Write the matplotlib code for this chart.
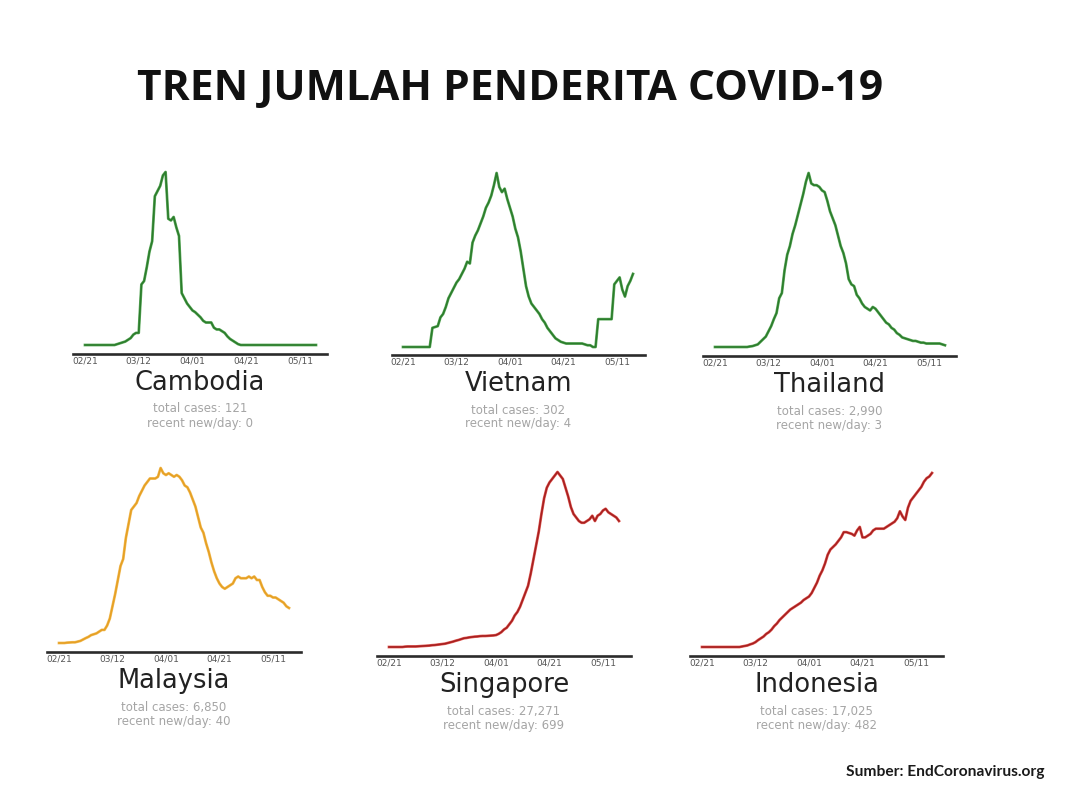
import matplotlib
matplotlib.use("Agg")
import matplotlib.pyplot as plt
import matplotlib.patheffects as pe

W, H = 1069, 795
DPI = 100

# ---------------- data (relative 7-day average of new cases/day, peak = 100) ----------------
tick_days = [0, 20, 40, 60, 80]
tick_labels = ["02/21", "03/12", "04/01", "04/21", "05/11"]

countries = ["Cambodia", "Vietnam", "Thailand", "Malaysia", "Singapore", "Indonesia"]
total_cases = ["121", "302", "2,990", "6,850", "27,271", "17,025"]
recent_new = ["0", "4", "3", "40", "699", "482"]

cambodia = [0, 0, 0, 0, 0, 0, 0, 0, 0, 0, 0, 0, 0.5, 1, 1.5, 2, 3, 4, 6, 7,
            7, 35, 37, 45, 54, 60, 86, 89, 92, 98, 100, 73, 72, 74, 68, 63, 30, 27, 24, 22,
            20, 19, 17.5, 16, 14, 13, 13, 13, 10, 9, 9, 8, 7, 5, 3.5, 2.5, 1.5, 0.5, 0, 0,
            0, 0, 0, 0, 0, 0, 0, 0, 0, 0, 0, 0, 0, 0, 0, 0, 0, 0, 0, 0,
            0, 0, 0, 0, 0, 0, 0]
vietnam = [0, 0, 0, 0, 0, 0, 0, 0, 0, 0, 0, 11, 11.5, 12, 17, 19, 23, 28, 31, 34,
           37, 39, 42, 45, 49, 48, 60, 64, 67, 71, 75, 80, 83, 87, 93, 100, 92, 89, 91, 85,
           80, 75, 68, 63, 55, 45, 35, 29, 25, 23, 21, 19, 16, 14, 11, 9, 7, 5, 4, 3,
           2.5, 2, 2, 2, 2, 2, 2, 2, 1.5, 1, 1, 0, 0, 16, 16, 16, 16, 16, 16, 36,
           38, 40, 33, 29, 35, 38, 42]
thailand = [0, 0, 0, 0, 0, 0, 0, 0, 0, 0, 0, 0, 0, 0.3, 0.5, 1, 1.5, 3, 4.5, 6,
            9, 12, 16, 19.5, 28, 31, 44, 53, 58, 65, 70, 76, 82, 88, 95, 100, 94, 93, 93, 92,
            90, 89, 84, 78, 74, 70, 64, 58, 54, 48, 39, 36, 35, 30, 28, 25, 23, 22, 21, 23,
            22, 20, 18, 16, 14, 13, 11, 10, 8, 7, 5.5, 5, 4.5, 4, 3.5, 3.5, 3, 2.5, 2.5, 2,
            2, 2, 2, 2, 2, 1.5, 1]
malaysia = [0, 0, 0, 0.2, 0.3, 0.4, 0.4, 0.8, 1.2, 2, 2.8, 3.5, 4.5, 5, 5.5, 6.5, 7.5, 7.5, 10, 14,
            21, 28, 36, 44, 48, 60, 68, 76, 78, 80, 84, 87, 90, 92, 94, 94, 94, 95, 100, 97,
            96, 97, 96, 95, 96, 95, 93, 90, 89, 86, 82, 78, 72, 66, 63, 57, 52, 46, 41, 37,
            34, 32, 31, 32, 33, 34, 37, 38, 37, 37, 37, 38, 37, 38, 36, 36, 32, 29, 27, 27,
            26, 26, 25, 24, 23, 21, 20]
singapore = [0, 0, 0, 0, 0, 0, 0.2, 0.3, 0.3, 0.3, 0.3, 0.4, 0.5, 0.6, 0.7, 0.8, 1.0, 1.1, 1.3, 1.5,
             1.7, 1.9, 2.3, 2.7, 3.1, 3.6, 4.0, 4.5, 5.0, 5.2, 5.5, 5.7, 5.9, 6.0, 6.2, 6.3, 6.3, 6.4, 6.5, 6.6,
             6.8, 7.5, 8.5, 10, 11, 13, 15, 18, 20, 23, 27, 31, 35, 42, 50, 58, 66, 76, 85, 91,
             94, 96, 98, 100, 98, 96, 91, 86, 80, 76, 74, 72, 71, 71, 72, 73, 75, 72, 75, 76,
             78, 79, 77, 76, 75, 74, 72]
indonesia = [0, 0, 0, 0, 0, 0, 0, 0, 0, 0, 0, 0, 0, 0, 0, 0.3, 0.6, 0.9, 1.5, 2,
             2.8, 4, 5, 6, 7.5, 8.5, 10, 12, 13.5, 15.5, 17, 18.5, 20, 21.5, 22.5, 23.5, 24.5, 25.5, 27, 28,
             29, 31, 34, 37, 41, 44, 48, 53, 56, 57.5, 59, 61, 63, 66, 66, 65.5, 65, 64, 67, 69,
             63, 63, 64, 65, 67, 68, 68, 68, 68, 69, 70, 71, 72, 74, 78, 75, 73, 80, 84, 86,
             88, 90, 92, 95, 97, 98, 100]

series = [cambodia, vietnam, thailand, malaysia, singapore, indonesia]
line_colors = ["#3c9a3c", "#3c9a3c", "#3c9a3c", "#f0b03a", "#dc3a32", "#dc3a32"]
core_colors = ["#2c7d2c", "#2c7d2c", "#2c7d2c", "#e6a023", "#a82020", "#a82020"]

# ---------------- layout (pixels, top-left origin) ----------------
# (axis_left, axis_right, data_start, data_end, axis_y, base_y, peak_y)
layout = [
    (73, 327, 85, 316, 354, 345, 172),
    (392, 645, 403, 633, 355, 347, 173),
    (703, 956, 715, 945, 356, 347, 173),
    (47, 301, 59, 289, 652, 643, 468),
    (377, 631, 389, 619, 656, 647, 472),
    (690, 943, 702, 932, 656, 647, 473),
]

fig = plt.figure(figsize=(W / DPI, H / DPI), dpi=DPI)
fig.patch.set_facecolor("white")

px2pt = 72.0 / DPI

for i, (L, R, S, E, ay, by, py) in enumerate(layout):
    vals = series[i]
    n = len(vals) - 1
    ax = fig.add_axes([L / W, 1 - ay / H, (R - L) / W, (ay - py) / H])
    ppd = (E - S) / n
    ax.set_xlim(-(S - L) / ppd, n + (R - E) / ppd)
    scale = 100.0 / (by - py)
    ax.set_ylim(-(ay - by) * scale, 100)
    days = list(range(len(vals)))
    ax.plot(days, vals, color=core_colors[i], lw=1.2, solid_joinstyle="round",
            clip_on=False,
            path_effects=[pe.Stroke(linewidth=2.0, foreground=line_colors[i], alpha=0.8),
                          pe.Normal()])
    for side in ["top", "right", "left"]:
        ax.spines[side].set_visible(False)
    ax.spines["bottom"].set_color("#2b2b2b")
    ax.spines["bottom"].set_linewidth(1.9)
    ax.set_yticks([])
    ax.set_xticks(tick_days)
    ax.set_xticklabels(tick_labels)
    ax.tick_params(axis="x", length=0, pad=1.5, labelsize=6.5, labelcolor="#555555")
    ax.set_facecolor("none")

    ax.annotate(countries[i], xy=(0.5, 0), xycoords="axes fraction",
                xytext=(0, -29 * px2pt), textcoords="offset points",
                ha="center", va="center", fontsize=18.5, color="#222222",
                family="DejaVu Sans")
    ax.annotate("total cases: " + total_cases[i], xy=(0.5, 0), xycoords="axes fraction",
                xytext=(0, -55 * px2pt), textcoords="offset points",
                ha="center", va="center", fontsize=8.5, color="#a5a5a5")
    ax.annotate("recent new/day: " + recent_new[i], xy=(0.5, 0), xycoords="axes fraction",
                xytext=(0, -69 * px2pt), textcoords="offset points",
                ha="center", va="center", fontsize=8.5, color="#a5a5a5")

fig.text(510 / W, 1 - 90 / H, "TREN JUMLAH PENDERITA COVID-19",
         ha="center", va="center", fontsize=30.6, fontweight="bold",
         family="Open Sans", color="#111111")
fig.text(1044 / W, 1 - 772 / H, "Sumber: EndCoronavirus.org",
         ha="right", va="center", fontsize=11.2, fontweight="bold",
         family="Lato", color="#1a1a1a")

fig.savefig("out.png", dpi=DPI, facecolor="white")
